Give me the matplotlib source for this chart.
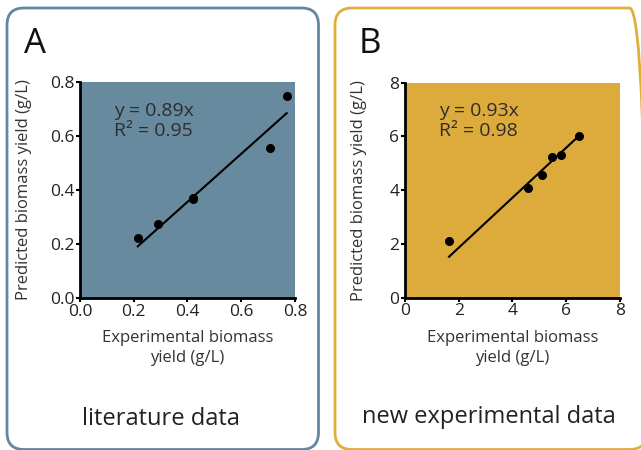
from matplotlib import pyplot as plt
from matplotlib.patches import FancyBboxPatch

plt.rcParams['font.family'] = ['Open Sans', 'DejaVu Sans']

# panel A: literature data
lit_exp = [0.215, 0.289, 0.419, 0.422, 0.707, 0.769]
lit_pred = [0.221, 0.273, 0.371, 0.366, 0.557, 0.749]
lit_slope = 0.89
lit_r2 = 0.95

# panel B: new experimental data
new_exp = [1.64, 4.58, 5.11, 5.48, 5.79, 6.47]
new_pred = [2.11, 4.09, 4.57, 5.25, 5.31, 6.03]
new_slope = 0.93
new_r2 = 0.98

lit_ticks = [0.0, 0.2, 0.4, 0.6, 0.8]
new_ticks = [0, 2, 4, 6, 8]

BLUE_FILL = '#688a9f'
BLUE_EDGE = '#6188a1'
GOLD_FILL = '#dcab3b'
GOLD_EDGE = '#e0ae3c'

fig = plt.figure(figsize=(6.41, 4.5), dpi=100)

# rounded frames around each panel (inch coordinates)
for x0, edge in [(0.07, BLUE_EDGE), (3.35, GOLD_EDGE)]:
    box = FancyBboxPatch((x0, 0.005), 3.115, 4.415,
                         boxstyle='round,pad=0,rounding_size=0.17',
                         transform=fig.dpi_scale_trans, facecolor='none',
                         edgecolor=edge, linewidth=2, clip_on=False)
    fig.patches.append(box)


def draw_panel(rect, xs, ys, slope, r2, ticks, fmt, fill, letter, caption,
               letter_xy, caption_xy, ylab_x):
    ax = fig.add_axes(rect)
    ax.set_facecolor(fill)
    ax.scatter(xs, ys, s=30, color='black', zorder=3)
    lo, hi = min(xs), max(xs)
    ax.plot([lo, hi], [slope * lo, slope * hi], color='black', lw=1.5)
    ax.set_xlim(ticks[0], ticks[-1])
    ax.set_ylim(ticks[0], ticks[-1])
    ax.set_xticks(ticks)
    ax.set_yticks(ticks)
    ax.set_xticklabels([fmt.format(t) for t in ticks])
    ax.set_yticklabels([fmt.format(t) for t in ticks])
    for side in ['top', 'right']:
        ax.spines[side].set_visible(False)
    for side in ['left', 'bottom']:
        ax.spines[side].set_linewidth(2)
    ax.tick_params(direction='out', length=3, width=1.5, labelsize=12.5,
                   labelcolor='#222222', pad=1)
    ax.set_xlabel('Experimental biomass\nyield (g/L)', fontsize=12,
                  color='#333333', linespacing=1.3)
    ax.xaxis.set_label_coords(0.5, -0.15)
    ax.set_ylabel('Predicted biomass yield (g/L)', fontsize=12,
                  color='#333333')
    ax.yaxis.set_label_coords(ylab_x, 0.5)
    ax.text(0.16, 0.82, f'y = {slope:.2f}x\nR² = {r2:.2f}', transform=ax.transAxes,
            fontsize=14, color='#2e2e2e', va='center', linespacing=1.15)
    fig.text(letter_xy[0], letter_xy[1], letter, fontsize=25, color='#111111',
             ha='left', va='center')
    fig.text(caption_xy[0], caption_xy[1], caption, fontsize=17,
             color='#222222', ha='center', va='center')
    return ax


draw_panel([0.1248, 0.3378, 0.3354, 0.48], lit_exp, lit_pred, lit_slope,
           lit_r2, lit_ticks, '{:.1f}', BLUE_FILL, 'A', 'literature data',
           (24 / 641, 1 - 44 / 450), (161 / 641, 1 - 419 / 450), -0.225)
draw_panel([0.6318, 0.3384, 0.3354, 0.478], new_exp, new_pred, new_slope,
           new_r2, new_ticks, '{:d}', GOLD_FILL, 'B', 'new experimental data',
           (359 / 641, 1 - 44 / 450), (489 / 641, 1 - 417 / 450), -0.175)

fig.savefig('out.png', dpi=100)
